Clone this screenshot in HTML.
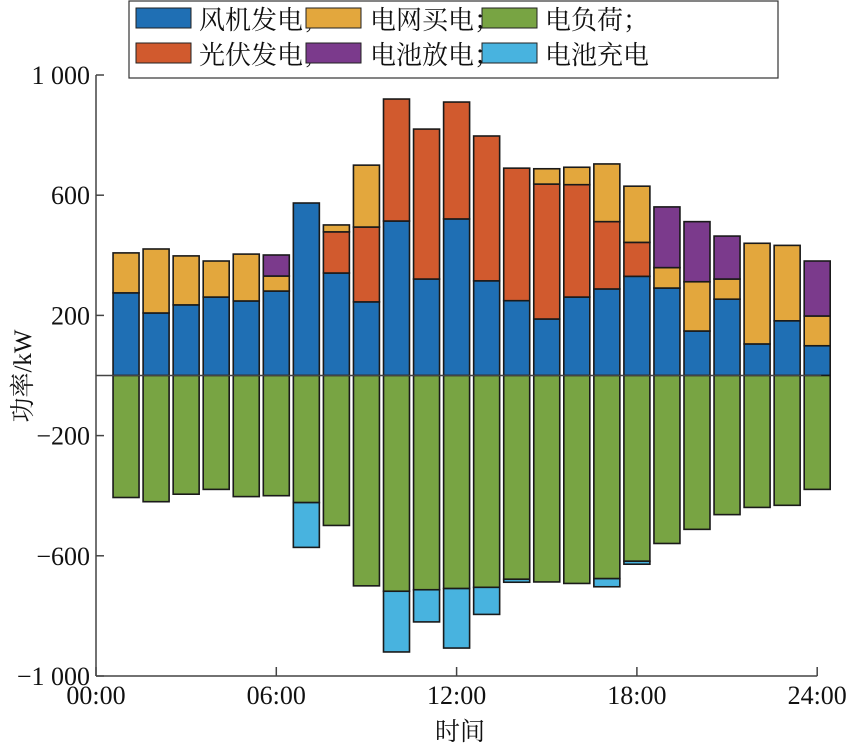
<!DOCTYPE html>
<html><head><meta charset="utf-8"><style>
body{margin:0;background:#fff;}
svg text{font-family:"Liberation Serif","Noto Serif CJK SC",serif;fill:#111;}
</style></head><body>
<svg width="854" height="745" viewBox="0 0 854 745" xmlns="http://www.w3.org/2000/svg">
<g id="bars"></g>
<g id="axes"></g>
<g>
<rect x="129" y="1" width="649" height="77" fill="#fff" stroke="#333" stroke-width="1.2"/>
<rect x="136" y="8" width="55" height="20" fill="#1f6fb4" stroke="#222"/>
<text x="199" y="29" font-size="26">风机发电；</text>
<rect x="306" y="8" width="55" height="20" fill="#e3a73d" stroke="#222"/>
<text x="370" y="29" font-size="26">电网买电；</text>
<rect x="482" y="8" width="55" height="20" fill="#78a443" stroke="#222"/>
<text x="545" y="29" font-size="26">电负荷；</text>
<rect x="136" y="43" width="55" height="20" fill="#d15a2e" stroke="#222"/>
<text x="199" y="64" font-size="26">光伏发电；</text>
<rect x="306" y="43" width="55" height="20" fill="#7b3a8c" stroke="#222"/>
<text x="370" y="64" font-size="26">电池放电；</text>
<rect x="482" y="43" width="55" height="20" fill="#48b3df" stroke="#222"/>
<text x="545" y="64" font-size="26">电池充电</text>
</g>
<text x="460" y="740" font-size="25" text-anchor="middle">时间</text>
<text transform="translate(31,376) rotate(-90)" font-size="25" text-anchor="middle">功率/kW</text>
</svg>
<script>
const hours=[1,2,3,4,5,6,7,8,9,10,11,12,13,14,15,16,17,18,19,20,21,22,23,24];
const wind=[275,208,235,261,248,281,574,341,245,514,321,521,315,249,188,261,288,330,291,148,254,105,182,99];
const pv=[0,0,0,0,0,0,0,137,249,406,499,389,482,441,449,374,224,113,0,0,0,0,0,0];
const grid=[133,213,163,120,156,50,0,23,206,0,0,0,0,0,51,58,192,187,68,164,67,335,251,99];
const discharge=[0,0,0,0,0,70,0,0,0,0,0,0,0,0,0,0,0,0,202,200,143,0,0,183];
const load=[406,420,395,379,403,400,423,499,700,718,713,709,705,678,687,692,676,618,559,512,463,439,432,379];
const charge=[0,0,0,0,0,0,149,0,0,202,107,198,90,10,0,0,27,10,0,0,0,0,0,0];
const yTicks=[1000,600,200,-200,-600,-1000];
const yTickLabels=["1 000","600","200","−200","−600","−1 000"];
const xTicks=[0,6,12,18,24];
const xTickLabels=["00:00","06:00","12:00","18:00","24:00"];

const X0=96,PXH=30.05,Y0=375.5,PXV=0.3005,BW=26;
const xs=h=>X0+h*PXH;
const ys=v=>Y0-v*PXV;
const NS="http://www.w3.org/2000/svg";
const bars=document.getElementById('bars'),axes=document.getElementById('axes');
function rect(parent,x,y,w,h,fill,name){
  const r=document.createElementNS(NS,'rect');
  r.setAttribute('x',x);r.setAttribute('y',y);r.setAttribute('width',w);r.setAttribute('height',Math.max(h,0));
  r.setAttribute('fill',fill);r.setAttribute('stroke','#1a1a1a');r.setAttribute('stroke-width','1.6');
  
  
  parent.appendChild(r);
}
const pos=[[wind,'#1f6fb4','wind'],[pv,'#d15a2e','pv'],[grid,'#e3a73d','grid'],[discharge,'#7b3a8c','discharge']];
const neg=[[load,'#78a443','load'],[charge,'#48b3df','charge']];
hours.forEach((h,i)=>{
  const x=xs(h)-BW/2;
  let acc=0;
  pos.forEach(([arr,c,n])=>{const v=arr[i];if(v>0){rect(bars,x,ys(acc+v),BW,ys(acc)-ys(acc+v),c,'bar-'+n+'-'+h);acc+=v;}});
  acc=0;
  neg.forEach(([arr,c,n])=>{const v=arr[i];if(v>0){rect(bars,x,ys(acc),BW,ys(acc-v)-ys(acc),c,'bar-'+n+'-'+h);acc-=v;}});
});
function line(x1,y1,x2,y2,name,w){
  const l=document.createElementNS(NS,'line');
  l.setAttribute('x1',x1);l.setAttribute('y1',y1);l.setAttribute('x2',x2);l.setAttribute('y2',y2);
  l.setAttribute('stroke','#444');l.setAttribute('stroke-width',w||1.5);
  
  
  axes.appendChild(l);
}
function text(x,y,s,anchor,name){
  const t=document.createElementNS(NS,'text');
  t.setAttribute('x',x);t.setAttribute('y',y);t.setAttribute('font-size','26');t.setAttribute('text-anchor',anchor);
  t.textContent=s;
  
  
  axes.appendChild(t);
}
line(X0,ys(1000),X0,ys(-1000),'y-axis-line');
line(X0,ys(-1000),xs(24),ys(-1000),'x-axis-line');
line(X0,ys(0),xs(24)+4,ys(0),'zero-line',1.4);
yTicks.forEach((v,i)=>{line(X0,ys(v),X0+8,ys(v),'y-tick');text(X0-6,ys(v)+9,yTickLabels[i],'end','y-tick-label');});
xTicks.forEach((h,i)=>{line(xs(h),ys(-1000),xs(h),ys(-1000)-9,'x-tick');text(xs(h),ys(-1000)+28,xTickLabels[i],'middle','x-tick-label');});
</script>
</body></html>
